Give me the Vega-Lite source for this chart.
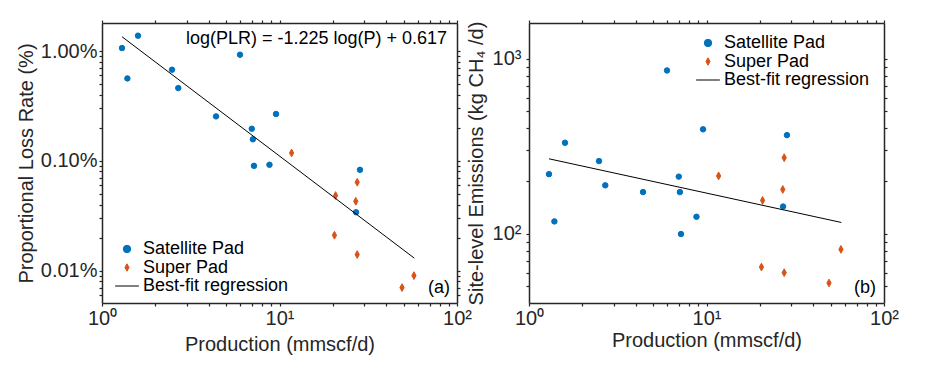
{
  "$schema": "https://vega.github.io/schema/vega-lite/v6.json",
  "background": "white",
  "padding": {"left": 16, "top": 19, "right": 5, "bottom": 5},
  "config": {
    "font": "Liberation Sans",
    "view": {"stroke": null},
    "axis": {
      "domain": true,
      "domainColor": "#262626",
      "domainWidth": 1.5,
      "grid": false,
      "tickColor": "#262626",
      "tickSize": 3,
      "tickWidth": 1.2,
      "labelFont": "Liberation Sans",
      "labelFontSize": 20,
      "labelColor": "#262626",
      "labelFlush": false,
      "labelOverlap": false,
      "titleFont": "Liberation Sans",
      "titleFontSize": 20,
      "titleFontWeight": "normal",
      "titleColor": "#262626"
    },
    "legend": {
      "labelFont": "Liberation Sans",
      "labelFontSize": 18,
      "labelColor": "#000000",
      "symbolSize": 55,
      "symbolStrokeWidth": 1,
      "rowPadding": 0.5,
      "padding": 0,
      "labelOffset": 7
    }
  },
  "resolve": {
    "scale": {"color": "independent", "stroke": "independent", "shape": "independent"},
    "legend": {"color": "independent", "stroke": "independent", "shape": "independent"}
  },
  "datasets": {
    "pts": [
      {"P": 1.296, "PLR": 1.064, "E": 219, "type": "Satellite Pad"},
      {"P": 1.595, "PLR": 1.38, "E": 331, "type": "Satellite Pad"},
      {"P": 1.39, "PLR": 0.563, "E": 117.6, "type": "Satellite Pad"},
      {"P": 2.48, "PLR": 0.676, "E": 260, "type": "Satellite Pad"},
      {"P": 2.69, "PLR": 0.46, "E": 189, "type": "Satellite Pad"},
      {"P": 5.99, "PLR": 0.926, "E": 857, "type": "Satellite Pad"},
      {"P": 4.39, "PLR": 0.254, "E": 173, "type": "Satellite Pad"},
      {"P": 9.56, "PLR": 0.267, "E": 395, "type": "Satellite Pad"},
      {"P": 6.98, "PLR": 0.196, "E": 212, "type": "Satellite Pad"},
      {"P": 7.08, "PLR": 0.157, "E": 173, "type": "Satellite Pad"},
      {"P": 7.18, "PLR": 0.09, "E": 99.6, "type": "Satellite Pad"},
      {"P": 8.78, "PLR": 0.092, "E": 125, "type": "Satellite Pad"},
      {"P": 28.4, "PLR": 0.0828, "E": 366, "type": "Satellite Pad"},
      {"P": 27.0, "PLR": 0.034, "E": 143, "type": "Satellite Pad"},
      {"P": 11.7, "PLR": 0.118, "E": 214, "type": "Super Pad"},
      {"P": 20.7, "PLR": 0.0483, "E": 155, "type": "Super Pad"},
      {"P": 27.4, "PLR": 0.0638, "E": 272, "type": "Super Pad"},
      {"P": 26.9, "PLR": 0.0428, "E": 179, "type": "Super Pad"},
      {"P": 20.4, "PLR": 0.021, "E": 64.5, "type": "Super Pad"},
      {"P": 27.4, "PLR": 0.014, "E": 59.9, "type": "Super Pad"},
      {"P": 57.2, "PLR": 0.009, "E": 81.4, "type": "Super Pad"},
      {"P": 49.0, "PLR": 0.007, "E": 52.3, "type": "Super Pad"}
    ],
    "fit": [
      {"P": 1.296, "PLR": 1.35, "E": 268},
      {"P": 57.5, "PLR": 0.01298, "E": 116}
    ]
  },
  "hconcat": [
    {
      "width": 355,
      "height": 280,
      "resolve": {"axis": {"x": "independent", "y": "independent"}},
      "layer": [
        {
          "data": {"name": "pts"},
          "mark": {"type": "point", "filled": true, "opacity": 1, "strokeWidth": 1},
          "encoding": {
            "x": {
              "field": "P", "type": "quantitative",
              "scale": {"type": "log", "domain": [1, 100], "nice": false},
              "axis": {
                "orient": "bottom",
                "title": "Production (mmscf/d)",
                "values": [1, 2, 3, 4, 5, 6, 7, 8, 9, 10, 20, 30, 40, 50, 60, 70, 80, 90, 100],
                "labelExpr": "datum.value === 1 ? '10⁰' : datum.value === 10 ? '10¹' : datum.value === 100 ? '10²' : ''",
                "labelPadding": 2,
                "titlePadding": 6
              }
            },
            "y": {
              "field": "PLR", "type": "quantitative",
              "scale": {"type": "log", "domain": [0.00507, 1.8], "nice": false},
              "axis": {
                "orient": "left",
                "title": "Proportional Loss Rate (%)",
                "values": [0.006, 0.007, 0.008, 0.009, 0.01, 0.02, 0.03, 0.04, 0.05, 0.06, 0.07, 0.08, 0.09, 0.1, 0.2, 0.3, 0.4, 0.5, 0.6, 0.7, 0.8, 0.9, 1],
                "labelExpr": "datum.value === 1 ? '1.00%' : datum.value === 0.1 ? '0.10%' : datum.value === 0.01 ? '0.01%' : ''",
                "labelPadding": 2,
                "titlePadding": 4
              }
            },
            "color": {
              "field": "type", "type": "nominal",
              "scale": {"domain": ["Satellite Pad", "Super Pad", "Best-fit regression"], "range": ["#0072BD", "#D95319", "#000000"]},
              "legend": {"title": null, "orient": "none", "legendX": 16, "legendY": 217}
            },
            "stroke": {
              "field": "type", "type": "nominal",
              "scale": {"domain": ["Satellite Pad", "Super Pad", "Best-fit regression"], "range": ["#0072BD", "#D95319", "#000000"]},
              "legend": {"title": null, "orient": "none", "legendX": 16, "legendY": 217}
            },
            "shape": {
              "field": "type", "type": "nominal",
              "scale": {"domain": ["Satellite Pad", "Super Pad", "Best-fit regression"], "range": ["circle", "M0,-1L0.55,0L0,1L-0.55,0Z", "M-3.2,0L3.2,0"]},
              "legend": {"title": null, "orient": "none", "legendX": 16, "legendY": 217}
            },
            "size": {"condition": {"test": "datum.type === 'Super Pad'", "value": 60}, "value": 30}
          }
        },
        {
          "data": {"name": "fit"},
          "mark": {"type": "line", "color": "#000000", "strokeWidth": 1},
          "encoding": {
            "x": {"field": "P", "type": "quantitative",
              "axis": {"orient": "top", "title": null, "labels": false,
                "values": [1, 2, 3, 4, 5, 6, 7, 8, 9, 10, 20, 30, 40, 50, 60, 70, 80, 90, 100]}},
            "y": {"field": "PLR", "type": "quantitative",
              "axis": {"orient": "right", "title": null, "labels": false,
                "values": [0.006, 0.007, 0.008, 0.009, 0.01, 0.02, 0.03, 0.04, 0.05, 0.06, 0.07, 0.08, 0.09, 0.1, 0.2, 0.3, 0.4, 0.5, 0.6, 0.7, 0.8, 0.9, 1]}}
          }
        },
        {
          "data": {"values": [{}]},
          "mark": {"type": "text", "text": "log(PLR) = -1.225 log(P) + 0.617", "align": "right", "baseline": "middle", "fontSize": 18, "color": "#000000"},
          "encoding": {
            "x": {"datum": 87.9, "type": "quantitative", "axis": null},
            "y": {"datum": 1.285, "type": "quantitative", "axis": null}
          }
        },
        {
          "data": {"values": [{}]},
          "mark": {"type": "text", "text": "(a)", "align": "right", "baseline": "middle", "fontSize": 18, "color": "#000000"},
          "encoding": {
            "x": {"datum": 91.4, "type": "quantitative", "axis": null},
            "y": {"datum": 0.007, "type": "quantitative", "axis": null}
          }
        }
      ]
    },
    {
      "width": 355,
      "height": 280,
      "resolve": {"axis": {"x": "independent", "y": "independent"}},
      "layer": [
        {
          "data": {"name": "pts"},
          "mark": {"type": "point", "filled": true, "opacity": 1, "strokeWidth": 1},
          "encoding": {
            "x": {
              "field": "P", "type": "quantitative",
              "scale": {"type": "log", "domain": [1, 100], "nice": false},
              "axis": {
                "orient": "bottom",
                "title": "Production (mmscf/d)",
                "values": [1, 2, 3, 4, 5, 6, 7, 8, 9, 10, 20, 30, 40, 50, 60, 70, 80, 90, 100],
                "labelExpr": "datum.value === 1 ? '10⁰' : datum.value === 10 ? '10¹' : datum.value === 100 ? '10²' : ''",
                "labelPadding": 2,
                "titlePadding": 2
              }
            },
            "y": {
              "field": "E", "type": "quantitative",
              "scale": {"type": "log", "domain": [40.2, 1600], "nice": false},
              "axis": {
                "orient": "left",
                "title": "Site-level Emissions (kg CH₄ /d)",
                "values": [50, 60, 70, 80, 90, 100, 200, 300, 400, 500, 600, 700, 800, 900, 1000],
                "labelExpr": "datum.value === 100 ? '10²' : datum.value === 1000 ? '10³' : ''",
                "labelPadding": 5,
                "titlePadding": 6
              }
            },
            "color": {
              "field": "type", "type": "nominal",
              "scale": {"domain": ["Satellite Pad", "Super Pad", "Best-fit regression"], "range": ["#0072BD", "#D95319", "#000000"]},
              "legend": {"title": null, "orient": "none", "legendX": 170, "legendY": 11}
            },
            "stroke": {
              "field": "type", "type": "nominal",
              "scale": {"domain": ["Satellite Pad", "Super Pad", "Best-fit regression"], "range": ["#0072BD", "#D95319", "#000000"]},
              "legend": {"title": null, "orient": "none", "legendX": 170, "legendY": 11}
            },
            "shape": {
              "field": "type", "type": "nominal",
              "scale": {"domain": ["Satellite Pad", "Super Pad", "Best-fit regression"], "range": ["circle", "M0,-1L0.55,0L0,1L-0.55,0Z", "M-3.2,0L3.2,0"]},
              "legend": {"title": null, "orient": "none", "legendX": 170, "legendY": 11}
            },
            "size": {"condition": {"test": "datum.type === 'Super Pad'", "value": 60}, "value": 30}
          }
        },
        {
          "data": {"name": "fit"},
          "mark": {"type": "line", "color": "#000000", "strokeWidth": 1},
          "encoding": {
            "x": {"field": "P", "type": "quantitative",
              "axis": {"orient": "top", "title": null, "labels": false,
                "values": [1, 2, 3, 4, 5, 6, 7, 8, 9, 10, 20, 30, 40, 50, 60, 70, 80, 90, 100]}},
            "y": {"field": "E", "type": "quantitative",
              "axis": {"orient": "right", "title": null, "labels": false,
                "values": [50, 60, 70, 80, 90, 100, 200, 300, 400, 500, 600, 700, 800, 900, 1000]}}
          }
        },
        {
          "data": {"values": [{}]},
          "mark": {"type": "text", "text": "(b)", "align": "right", "baseline": "middle", "fontSize": 18, "color": "#000000"},
          "encoding": {
            "x": {"datum": 90.2, "type": "quantitative", "axis": null},
            "y": {"datum": 49, "type": "quantitative", "axis": null}
          }
        }
      ]
    }
  ],
  "spacing": 72,
  "bounds": "flush"
}
